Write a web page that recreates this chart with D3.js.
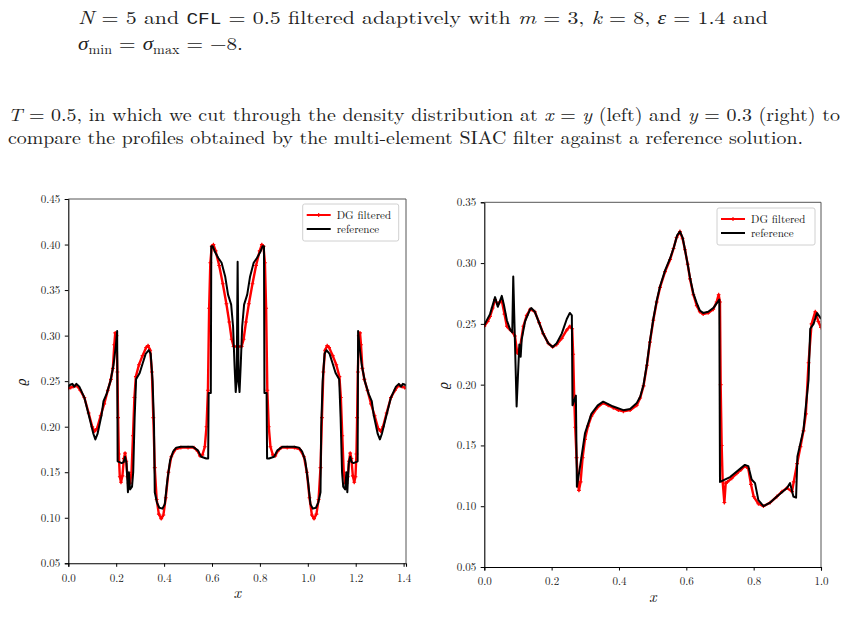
<!DOCTYPE html>
<html>
<head>
<meta charset="utf-8">
<script src="https://cdn.jsdelivr.net/npm/d3@7"></script>
<style>
  html, body { margin: 0; padding: 0; background: #fff; }
  svg { display: block; }
</style>
</head>
<body>
<svg id="page" width="846" height="635"></svg>
<script>
'use strict';

// density cut along x = y (left panel)
const leftReference = [
  [0.000, 0.244], [0.008, 0.246], [0.017, 0.247], [0.025, 0.244], [0.034, 0.247], [0.046, 0.244],
  [0.067, 0.232], [0.088, 0.210], [0.105, 0.192], [0.113, 0.186], [0.122, 0.192], [0.139, 0.213],
  [0.147, 0.228], [0.160, 0.236], [0.176, 0.250], [0.189, 0.268], [0.199, 0.290], [0.204, 0.305],
  [0.206, 0.162], [0.223, 0.160], [0.231, 0.161], [0.237, 0.167], [0.243, 0.160], [0.249, 0.128],
  [0.253, 0.150], [0.258, 0.131], [0.266, 0.134], [0.271, 0.150], [0.277, 0.210], [0.283, 0.252],
  [0.298, 0.259], [0.311, 0.270], [0.323, 0.280], [0.336, 0.284], [0.344, 0.280], [0.352, 0.250],
  [0.358, 0.200], [0.361, 0.128], [0.370, 0.117], [0.380, 0.111], [0.393, 0.110], [0.403, 0.115],
  [0.413, 0.140], [0.425, 0.163], [0.438, 0.173], [0.451, 0.177], [0.470, 0.178], [0.520, 0.178],
  [0.541, 0.174], [0.555, 0.167], [0.576, 0.165], [0.584, 0.165], [0.586, 0.237], [0.595, 0.237],
  [0.597, 0.398], [0.603, 0.398], [0.612, 0.392], [0.627, 0.385], [0.640, 0.380], [0.655, 0.365],
  [0.667, 0.345], [0.680, 0.334], [0.688, 0.310], [0.694, 0.268], [0.699, 0.238], [0.703, 0.250],
  [0.707, 0.381],
  [0.711, 0.250], [0.715, 0.238], [0.720, 0.268], [0.726, 0.310], [0.734, 0.334], [0.747, 0.345],
  [0.759, 0.365], [0.774, 0.380], [0.787, 0.385], [0.802, 0.392], [0.811, 0.398], [0.817, 0.398],
  [0.819, 0.237], [0.828, 0.237], [0.830, 0.165], [0.838, 0.165], [0.859, 0.167], [0.873, 0.174],
  [0.894, 0.178], [0.944, 0.178], [0.963, 0.177], [0.976, 0.173], [0.989, 0.163], [1.001, 0.140],
  [1.011, 0.115], [1.021, 0.110], [1.034, 0.111], [1.044, 0.117], [1.053, 0.128], [1.056, 0.200],
  [1.062, 0.250], [1.070, 0.280], [1.078, 0.284], [1.091, 0.280], [1.103, 0.270], [1.116, 0.259],
  [1.131, 0.252], [1.137, 0.210], [1.143, 0.150], [1.148, 0.134], [1.156, 0.131], [1.161, 0.150],
  [1.165, 0.128], [1.171, 0.160], [1.177, 0.167], [1.183, 0.161], [1.191, 0.160], [1.208, 0.162],
  [1.210, 0.305], [1.215, 0.290], [1.225, 0.268], [1.238, 0.250], [1.254, 0.236], [1.267, 0.228],
  [1.275, 0.213], [1.292, 0.192], [1.301, 0.186], [1.309, 0.192], [1.326, 0.210], [1.347, 0.232],
  [1.368, 0.244], [1.380, 0.247], [1.389, 0.244], [1.397, 0.247], [1.406, 0.246], [1.414, 0.244]
];

const leftFiltered = [
  [0.000, 0.242], [0.010, 0.243], [0.020, 0.244], [0.030, 0.245], [0.040, 0.244], [0.050, 0.240],
  [0.067, 0.232], [0.085, 0.215], [0.100, 0.200], [0.110, 0.195], [0.120, 0.198], [0.135, 0.212],
  [0.150, 0.225], [0.165, 0.240], [0.178, 0.252], [0.186, 0.264], [0.192, 0.290], [0.196, 0.303],
  [0.201, 0.300], [0.205, 0.260], [0.208, 0.210], [0.211, 0.170], [0.215, 0.145], [0.220, 0.139],
  [0.226, 0.146], [0.232, 0.165], [0.237, 0.171], [0.242, 0.162], [0.247, 0.145], [0.252, 0.138],
  [0.258, 0.138], [0.264, 0.150], [0.270, 0.190], [0.276, 0.232], [0.282, 0.255], [0.295, 0.268],
  [0.310, 0.278], [0.325, 0.287], [0.333, 0.289], [0.342, 0.284], [0.349, 0.260], [0.355, 0.210],
  [0.361, 0.155], [0.369, 0.120], [0.378, 0.104], [0.388, 0.099], [0.397, 0.103], [0.407, 0.122],
  [0.418, 0.150], [0.430, 0.167], [0.447, 0.175], [0.470, 0.177], [0.500, 0.177], [0.525, 0.177],
  [0.540, 0.173], [0.550, 0.168], [0.560, 0.169], [0.570, 0.178], [0.577, 0.200], [0.583, 0.240],
  [0.588, 0.330], [0.593, 0.380], [0.599, 0.398], [0.606, 0.400], [0.615, 0.393], [0.630, 0.377],
  [0.645, 0.357], [0.660, 0.335], [0.672, 0.315], [0.682, 0.296], [0.690, 0.288], [0.707, 0.288],
  [0.724, 0.288], [0.732, 0.296], [0.742, 0.315], [0.754, 0.335], [0.769, 0.357], [0.784, 0.377],
  [0.799, 0.393], [0.808, 0.400], [0.815, 0.398], [0.821, 0.380], [0.826, 0.330], [0.831, 0.240],
  [0.837, 0.200], [0.844, 0.178], [0.854, 0.169], [0.864, 0.168], [0.874, 0.173], [0.889, 0.177],
  [0.914, 0.177], [0.944, 0.177], [0.967, 0.175], [0.984, 0.167], [0.996, 0.150], [1.007, 0.122],
  [1.017, 0.103], [1.026, 0.099], [1.036, 0.104], [1.045, 0.120], [1.053, 0.155], [1.059, 0.210],
  [1.065, 0.260], [1.072, 0.284], [1.081, 0.289], [1.089, 0.287], [1.104, 0.278], [1.119, 0.268],
  [1.132, 0.255], [1.138, 0.232], [1.144, 0.190], [1.150, 0.150], [1.156, 0.138], [1.162, 0.138],
  [1.167, 0.145], [1.172, 0.162], [1.177, 0.171], [1.182, 0.165], [1.188, 0.146], [1.194, 0.139],
  [1.199, 0.145], [1.203, 0.170], [1.206, 0.210], [1.209, 0.260], [1.213, 0.300], [1.218, 0.303],
  [1.222, 0.290], [1.228, 0.264], [1.236, 0.252], [1.249, 0.240], [1.264, 0.225], [1.279, 0.212],
  [1.294, 0.198], [1.304, 0.195], [1.314, 0.200], [1.329, 0.215], [1.347, 0.232], [1.364, 0.240],
  [1.374, 0.244], [1.384, 0.245], [1.394, 0.244], [1.404, 0.243], [1.414, 0.242]
];

// density cut along y = 0.3 (right panel)
const rightReference = [
  [0.000, 0.249], [0.017, 0.258], [0.032, 0.272], [0.040, 0.264], [0.052, 0.273], [0.058, 0.266],
  [0.067, 0.253], [0.077, 0.245], [0.083, 0.243], [0.086, 0.289], [0.096, 0.182], [0.104, 0.233],
  [0.108, 0.223], [0.111, 0.237], [0.121, 0.252], [0.136, 0.262], [0.140, 0.263], [0.150, 0.260],
  [0.175, 0.242], [0.190, 0.234], [0.203, 0.231], [0.215, 0.234], [0.230, 0.242], [0.245, 0.254],
  [0.254, 0.259], [0.260, 0.257], [0.262, 0.183], [0.272, 0.191], [0.275, 0.116], [0.284, 0.132],
  [0.299, 0.160], [0.318, 0.176], [0.337, 0.183], [0.353, 0.186], [0.383, 0.182], [0.413, 0.179],
  [0.433, 0.180], [0.453, 0.185], [0.463, 0.190], [0.473, 0.200], [0.483, 0.217], [0.492, 0.236],
  [0.502, 0.254], [0.512, 0.269], [0.522, 0.281], [0.537, 0.294], [0.552, 0.304], [0.563, 0.313],
  [0.573, 0.323], [0.581, 0.326], [0.589, 0.321], [0.596, 0.311], [0.604, 0.299], [0.611, 0.288],
  [0.621, 0.275], [0.631, 0.267], [0.640, 0.261], [0.650, 0.259], [0.665, 0.260], [0.680, 0.263],
  [0.698, 0.270], [0.700, 0.120], [0.730, 0.124], [0.774, 0.134], [0.784, 0.133], [0.794, 0.122],
  [0.804, 0.119], [0.814, 0.105], [0.829, 0.100], [0.849, 0.103], [0.869, 0.108], [0.899, 0.115],
  [0.908, 0.119], [0.918, 0.108], [0.926, 0.107], [0.930, 0.141], [0.948, 0.163], [0.963, 0.204],
  [0.968, 0.246], [0.978, 0.250], [0.988, 0.259], [0.998, 0.255], [1.000, 0.254]
];

const rightFiltered = [
  [0.000, 0.248], [0.010, 0.252], [0.017, 0.256], [0.025, 0.263], [0.032, 0.270], [0.040, 0.266],
  [0.046, 0.268], [0.052, 0.269], [0.060, 0.258], [0.067, 0.248], [0.074, 0.246], [0.081, 0.244],
  [0.091, 0.240], [0.098, 0.226], [0.106, 0.230], [0.116, 0.248], [0.126, 0.257], [0.136, 0.262],
  [0.150, 0.260], [0.163, 0.251], [0.175, 0.242], [0.190, 0.234], [0.203, 0.231], [0.215, 0.233],
  [0.230, 0.238], [0.245, 0.245], [0.254, 0.248], [0.261, 0.246], [0.264, 0.225], [0.267, 0.190],
  [0.270, 0.165], [0.274, 0.140], [0.278, 0.120], [0.281, 0.113], [0.286, 0.120], [0.292, 0.140],
  [0.299, 0.155], [0.308, 0.166], [0.318, 0.174], [0.335, 0.181], [0.353, 0.185], [0.368, 0.183],
  [0.383, 0.181], [0.398, 0.179], [0.413, 0.178], [0.433, 0.179], [0.453, 0.183], [0.463, 0.189],
  [0.473, 0.199], [0.483, 0.216], [0.492, 0.235], [0.502, 0.253], [0.512, 0.268], [0.522, 0.280],
  [0.537, 0.293], [0.552, 0.303], [0.562, 0.312], [0.571, 0.321], [0.581, 0.326], [0.589, 0.320],
  [0.596, 0.311], [0.604, 0.299], [0.611, 0.287], [0.621, 0.274], [0.631, 0.265], [0.640, 0.260],
  [0.650, 0.258], [0.665, 0.259], [0.680, 0.262], [0.690, 0.268], [0.696, 0.274], [0.700, 0.268],
  [0.702, 0.200], [0.705, 0.150], [0.708, 0.120], [0.713, 0.103], [0.717, 0.119], [0.722, 0.120],
  [0.735, 0.123], [0.750, 0.127], [0.762, 0.130], [0.774, 0.133], [0.784, 0.131], [0.792, 0.118],
  [0.800, 0.108], [0.814, 0.102], [0.829, 0.100], [0.849, 0.103], [0.869, 0.108], [0.884, 0.112],
  [0.899, 0.115], [0.914, 0.112], [0.919, 0.120], [0.929, 0.135], [0.939, 0.149], [0.948, 0.162],
  [0.955, 0.176], [0.963, 0.218], [0.972, 0.250], [0.983, 0.260], [0.992, 0.252], [1.000, 0.247]
];

const leftXTicks = [0.0, 0.2, 0.4, 0.6, 0.8, 1.0, 1.2, 1.4];
const leftYTicks = [0.05, 0.10, 0.15, 0.20, 0.25, 0.30, 0.35, 0.40, 0.45];
const rightXTicks = [0.0, 0.2, 0.4, 0.6, 0.8, 1.0];
const rightYTicks = [0.05, 0.10, 0.15, 0.20, 0.25, 0.30, 0.35];
const legendLabels = ['DG filtered', 'reference'];

const SERIF = '"Latin Modern Roman", "CMU Serif", "Liberation Serif", "DejaVu Serif", serif';
const svg = d3.select('#page');

// --- surrounding paper text ---
function paraLine(x, y, len, parts) {
  const t = svg.append('text')
    .attr('x', x).attr('y', y)
    .attr('textLength', len)
    .attr('lengthAdjust', 'spacingAndGlyphs')
    .style('font-family', SERIF)
    .style('font-size', '18px')
    .attr('fill', '#222');
  parts.forEach(function (p) {
    const s = t.append('tspan').text(p.t);
    if (p.i) s.style('font-style', 'italic');
    if (p.m) s.style('font-family', '"Liberation Mono", "DejaVu Sans Mono", monospace').style('font-size', '16px');
    if (p.sub) s.attr('baseline-shift', '-30%').style('font-size', '12px');
  });
}

paraLine(78, 24, 690, [
  { t: 'N', i: 1 }, { t: ' = 5 and ' }, { t: 'CFL', m: 1 }, { t: ' = 0.5 filtered adaptively with ' },
  { t: 'm', i: 1 }, { t: ' = 3, ' }, { t: 'k', i: 1 }, { t: ' = 8, ' }, { t: 'ε', i: 1 }, { t: ' = 1.4 and' }
]);
paraLine(78, 50, 165, [
  { t: 'σ', i: 1 }, { t: 'min', sub: 1 }, { t: ' = ' }, { t: 'σ', i: 1 }, { t: 'max', sub: 1 }, { t: ' = −8.' }
]);
paraLine(8, 121, 832, [
  { t: 'T', i: 1 }, { t: ' = 0.5, in which we cut through the density distribution at ' },
  { t: 'x', i: 1 }, { t: ' = ' }, { t: 'y', i: 1 }, { t: ' (left) and ' }, { t: 'y', i: 1 }, { t: ' = 0.3 (right) to' }
]);
paraLine(8, 144, 795, [
  { t: 'compare the profiles obtained by the multi-element SIAC filter against a reference solution.' }
]);

const MARK = 'M-1.9,0H1.9M0,-1.9V1.9';

// --- one panel ---
function drawPanel(cfg) {
  const x = d3.scaleLinear().domain(cfg.xDomain).range([cfg.left, cfg.right]);
  const y = d3.scaleLinear().domain(cfg.yDomain).range([cfg.bottom, cfg.top]);
  const g = svg.append('g');

  const clipId = 'clip-' + cfg.name;
  svg.append('clipPath').attr('id', clipId).append('rect')
    .attr('x', cfg.left).attr('y', cfg.top)
    .attr('width', cfg.right - cfg.left).attr('height', cfg.bottom - cfg.top);

  const line = d3.line().x(function (d) { return x(d[0]); }).y(function (d) { return y(d[1]); });
  const plot = g.append('g').attr('clip-path', 'url(#' + clipId + ')');

  plot.append('path').datum(cfg.filtered)
    .attr('d', line).attr('fill', 'none')
    .attr('stroke', '#ff0000').attr('stroke-width', 2.4).attr('stroke-linejoin', 'round');
  plot.append('g').selectAll('path').data(cfg.filtered).join('path')
    .attr('transform', function (d) { return 'translate(' + x(d[0]) + ',' + y(d[1]) + ')'; })
    .attr('d', MARK)
    .attr('stroke', '#ff0000').attr('stroke-width', 1.1);
  plot.append('path').datum(cfg.reference)
    .attr('d', line).attr('fill', 'none')
    .attr('stroke', '#000').attr('stroke-width', 2).attr('stroke-linejoin', 'round');

  // axes
  const xAxis = g.append('g').attr('transform', 'translate(0,' + cfg.bottom + ')')
    .call(d3.axisBottom(x).tickValues(cfg.xTicks).tickFormat(d3.format('.1f')).tickSizeOuter(0).tickSize(3.5).tickPadding(cfg.xPad));
  const yAxis = g.append('g').attr('transform', 'translate(' + cfg.left + ',0)')
    .call(d3.axisLeft(y).tickValues(cfg.yTicks).tickFormat(d3.format('.2f')).tickSizeOuter(0).tickSize(3.5).tickPadding(4.5));
  [xAxis, yAxis].forEach(function (a) {
    a.select('.domain').attr('stroke', '#000').attr('stroke-width', 1.1);
    a.selectAll('.tick line').attr('stroke', '#000').attr('stroke-width', 1);
    a.selectAll('.tick text').style('font-family', SERIF).style('font-size', '11px').attr('fill', '#222');
  });
  g.append('line').attr('x1', cfg.left).attr('x2', cfg.right).attr('y1', cfg.top).attr('y2', cfg.top)
    .attr('stroke', '#555').attr('stroke-width', 1);
  g.append('line').attr('x1', cfg.right).attr('x2', cfg.right).attr('y1', cfg.top).attr('y2', cfg.bottom)
    .attr('stroke', '#555').attr('stroke-width', 1);

  g.append('text').attr('x', (cfg.left + cfg.right) / 2).attr('y', cfg.bottom + 35)
    .attr('text-anchor', 'middle').style('font-family', SERIF).style('font-style', 'italic')
    .style('font-size', '16px').attr('fill', '#111').text('x');
  g.append('text').attr('transform', 'translate(' + cfg.yLabelX + ',' + ((cfg.top + cfg.bottom) / 2 + 1) + ') rotate(-90)')
    .attr('text-anchor', 'middle').attr('dy', '0.35em')
    .style('font-family', '"DejaVu Serif", serif').style('font-style', 'italic')
    .style('font-size', '12px').attr('fill', '#111').text('ϱ');

  // legend
  const lg = g.append('g').attr('transform', 'translate(' + cfg.legendX + ',' + cfg.legendY + ')');
  lg.append('rect').attr('width', cfg.legendW).attr('height', 37).attr('rx', 2)
    .attr('fill', '#fff').attr('fill-opacity', 0.85).attr('stroke', '#d0d0d0').attr('stroke-width', 1);
  legendLabels.forEach(function (lab, i) {
    const yy = 11 + i * 14;
    lg.append('line').attr('x1', 4).attr('x2', 28).attr('y1', yy).attr('y2', yy)
      .attr('stroke', i === 0 ? '#ff0000' : '#000').attr('stroke-width', 2);
    if (i === 0) {
      lg.append('path').attr('transform', 'translate(16,' + yy + ')')
        .attr('d', MARK).attr('stroke', '#ff0000').attr('stroke-width', 1.1);
    }
    lg.append('text').attr('x', 34).attr('y', yy + 3.5)
      .style('font-family', SERIF).style('font-size', '11px').attr('fill', '#111').text(lab);
  });
}

drawPanel({
  name: 'left', left: 68.3, right: 406, top: 199, bottom: 563.3,
  xDomain: [0, 1.41], yDomain: [0.05, 0.45], xTicks: leftXTicks, yTicks: leftYTicks,
  reference: leftReference, filtered: leftFiltered, xPad: 7, yLabelX: 22,
  legendX: 302.7, legendY: 204, legendW: 96
});
drawPanel({
  name: 'right', left: 484.3, right: 821, top: 202.3, bottom: 567,
  xDomain: [0, 1], yDomain: [0.05, 0.35], xTicks: rightXTicks, yTicks: rightYTicks,
  reference: rightReference, filtered: rightFiltered, xPad: 7, yLabelX: 444,
  legendX: 717, legendY: 208, legendW: 98
});
</script>
</body>
</html>
